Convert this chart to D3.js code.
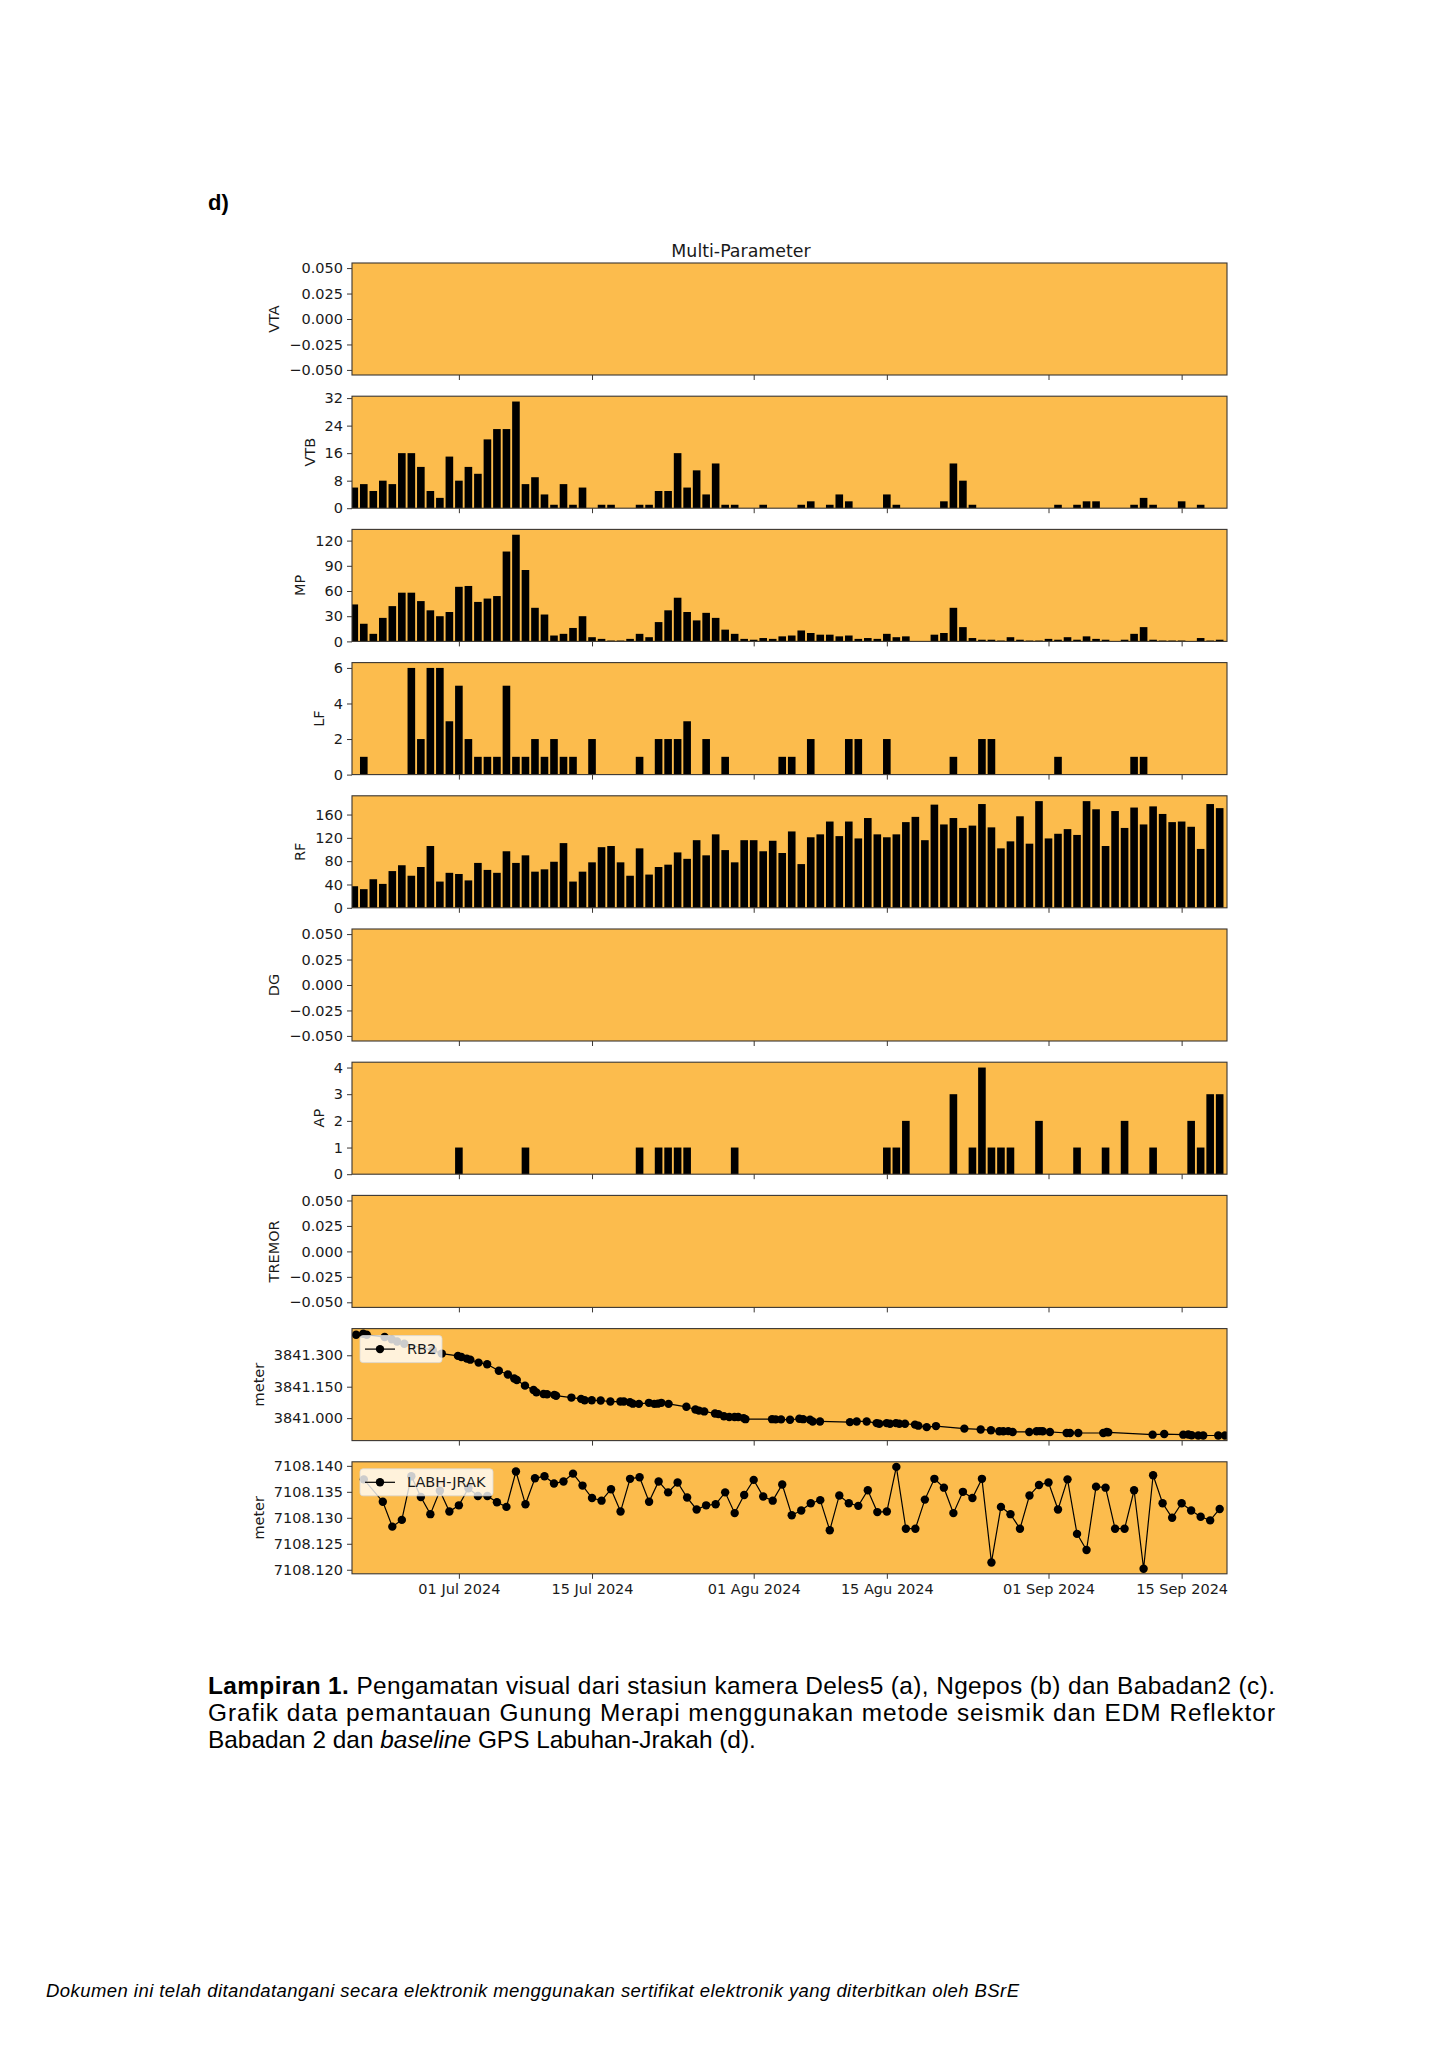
<!DOCTYPE html>
<html lang="en">
<head>
<meta charset="utf-8">
<title>Multi-Parameter</title>
<script src="https://cdn.jsdelivr.net/npm/d3@7"></script>
<style>
body { margin: 0; background: #fff; }
svg { display: block; }
</style>
</head>
<body>
<script>
var W = 1448, H = 2048;

// daily counts, one bar per day from 20 Jun 2024 (92 days)
var startDay = "2024-06-20";
var vtb = [6,7,5,8,7,16,16,12,5,3, 15,8,12,10,20,23,23,31,7,9, 4,1,7,1,6,0,1,1,0,0,
           1,1,5,5,16,6,11,4,13,1, 1,0,0,1,0,0,0,1,2,0, 1,4,2,0,0,0,4,1,0,0,
           0,0,2,13,8,1,0,0,0,0, 0,0,0,0,1,0,1,2,2,0, 0,0,1,3,1,0,0,2,0,1, 0,0];
var mp  = [44,21,9,28,42,58,58,48,37,30, 35,65,66,47,51,54,107,127,85,40, 32,7,9,16,30,5,3,1,1,3,
           9,5,23,37,52,35,25,34,28,14, 9,3,2,4,3,6,7,13,10,8, 8,6,7,3,4,3,9,5,6,0,
           0,8,10,40,17,4,2,2,1,5, 2,1,1,3,2,5,2,6,3,2, 0,2,9,17,2,1,1,1,0,4, 1,2];
var lf  = [0,1,0,0,0,0,6,2,6,6, 3,5,2,1,1,1,5,1,1,2, 1,2,1,1,0,2,0,0,0,0,
           1,0,2,2,2,3,0,2,0,1, 0,0,0,0,0,1,1,0,2,0, 0,0,2,2,0,0,2,0,0,0,
           0,0,0,1,0,0,2,2,0,0, 0,0,0,0,1,0,0,0,0,0, 0,0,1,1,0,0,0,0,0,0, 0,0];
var rf  = [37,32,49,41,63,73,55,70,106,45, 60,58,47,77,65,60,97,77,90,62, 66,79,111,45,62,78,104,106,78,55,
           102,57,70,74,95,84,116,90,126,99, 78,116,116,97,115,94,131,75,121,126, 148,123,148,119,154,126,121,126,147,156,
           116,177,143,154,137,141,178,138,102,114, 157,110,183,119,127,135,125,183,169,106, 166,137,172,143,174,161,147,148,139,101, 178,171];
var ap  = [0,0,0,0,0,0,0,0,0,0, 0,1,0,0,0,0,0,0,1,0, 0,0,0,0,0,0,0,0,0,0,
           1,0,1,1,1,1,0,0,0,0, 1,0,0,0,0,0,0,0,0,0, 0,0,0,0,0,0,1,1,2,0,
           0,0,0,3,0,1,4,1,1,1, 0,0,2,0,0,0,1,0,0,1, 0,2,0,0,1,0,0,0,2,1, 3,3];

// EDM RB2 distance, time in days since 20 Jun 2024
var rb2Day = [0.19,0.94,1.31,3.19,3.94,4.5,5.26,8.26,9.2,10.9, 11.26,11.83,12.2,13.07,13.97,15.2,16.15,16.82,17.09,17.95,
              18.85,19.15,19.9,20.27,21.03,21.22,22.83,23.85,24.22,24.97, 25.91,26.93,27.98,28.35,28.99,29.29,29.93,30.98,31.55,31.92,
              32.29,33.05,34.92,35.87,36.24,36.8,37.93,38.3,38.87,39.43, 39.99,40.37,40.94,41.13,43.93,44.31,44.88,45.82,46.8,47.2,
              47.92,48.2,48.97,52.12,52.83,53.88,54.93,55.21,55.98,56.33, 56.96,57.31,57.91,58.96,59.31,60.19,61.17,64.15,65.87,66.95,
              67.83,68.25,68.77,69.23,70.98,71.75,72.1,72.39,73.15,74.91, 75.26,76.13,78.76,79.12,79.29,83.95,85.17,87.17,87.7,88.05,
              88.75,89.27,90.85,91.56];
var rb2Val = [3841.398,3841.403,3841.398,3841.387,3841.376,3841.366,3841.355,3841.324,3841.308,3841.297,
              3841.292,3841.284,3841.279,3841.265,3841.257,3841.226,3841.208,3841.189,3841.182,3841.155,
              3841.134,3841.123,3841.115,3841.114,3841.111,3841.107,3841.098,3841.092,3841.085,3841.085,
              3841.084,3841.079,3841.079,3841.079,3841.076,3841.069,3841.068,3841.073,3841.068,3841.069,
              3841.073,3841.068,3841.054,3841.041,3841.036,3841.032,3841.022,3841.019,3841.009,3841.005,
              3841.005,3841.005,3841.000,3840.995,3840.995,3840.994,3840.994,3840.992,3840.997,3840.995,
              3840.992,3840.984,3840.984,3840.981,3840.984,3840.984,3840.976,3840.973,3840.976,3840.973,
              3840.976,3840.973,3840.973,3840.969,3840.964,3840.957,3840.962,3840.950,3840.946,3840.942,
              3840.937,3840.937,3840.938,3840.934,3840.934,3840.937,3840.938,3840.937,3840.934,3840.929,
              3840.929,3840.929,3840.929,3840.934,3840.932,3840.921,3840.924,3840.921,3840.922,3840.918,
              3840.917,3840.917,3840.917,3840.917];

// GPS baseline Labuhan-Jrakah, days since 20 Jun 2024
var labhDay = [1,3,4,5,6,7,8,9,10, 11,12,13,14,15,16,17,18,19,20, 21,22,23,24,25,26,27,28,29,30,
               31,32,33,34,35,36,37,38,39,40, 41,42,43,44,45,46,47,48,49,50, 51,52,53,54,55,56,57,58,59,60,
               61,62,63,64,65,66,67,68,69,70, 71,72,73,74,75,76,77,78,79,80, 81,82,83,84,85,86,87,88,89,90, 91];
var labhVal = [7108.1374,7108.1331,7108.1283,7108.1296,7108.1380,7108.1340,7108.1307,7108.1352,7108.1312,
               7108.1324,7108.1357,7108.1342,7108.1342,7108.1330,7108.1321,7108.1389,7108.1326,7108.1376,7108.1380,
               7108.1366,7108.1370,7108.1385,7108.1362,7108.1338,7108.1333,7108.1355,7108.1312,7108.1375,7108.1378,
               7108.1331,7108.1370,7108.1349,7108.1368,7108.1339,7108.1316,7108.1324,7108.1326,7108.1349,7108.1309,
               7108.1344,7108.1373,7108.1341,7108.1333,7108.1364,7108.1305,7108.1314,7108.1328,7108.1334,7108.1276,
               7108.1343,7108.1328,7108.1323,7108.1353,7108.1311,7108.1312,7108.1398,7108.1279,7108.1279,7108.1335,
               7108.1375,7108.1358,7108.1309,7108.1350,7108.1338,7108.1375,7108.1214,7108.1321,7108.1307,7108.1279,
               7108.1343,7108.1363,7108.1368,7108.1316,7108.1374,7108.1269,7108.1238,7108.1360,7108.1358,7108.1279,
               7108.1279,7108.1353,7108.1202,7108.1382,7108.1328,7108.1300,7108.1328,7108.1314,7108.1302,7108.1295,
               7108.1317];

// tick values / labels
var emptyTicks = [-0.05, -0.025, 0, 0.025, 0.05];
var vtbTicks = [0, 8, 16, 24, 32];
var mpTicks = [0, 30, 60, 90, 120];
var lfTicks = [0, 2, 4, 6];
var rfTicks = [0, 40, 80, 120, 160];
var apTicks = [0, 1, 2, 3, 4];
var rb2Ticks = [3841.000, 3841.150, 3841.300];
var labhTicks = [7108.120, 7108.125, 7108.130, 7108.135, 7108.140];
var xTickDates = ["2024-07-01", "2024-07-15", "2024-08-01", "2024-08-15", "2024-09-01", "2024-09-15"];
var xTickLabels = ["01 Jul 2024", "15 Jul 2024", "01 Agu 2024", "15 Agu 2024", "01 Sep 2024", "15 Sep 2024"];

// layout
var L = 352, R = 1227;     // axes left / right
var top0 = 263, step = 133.2, ph = 112;
var bg = "#fcbc4d";
var frame = "#3a3632";
var font = "DejaVu Sans";
var mr = 4.2;              // marker radius

var svg = d3.select("body").append("svg").attr("width", W).attr("height", H);
svg.append("rect").attr("width", W).attr("height", H).attr("fill", "#fff");

var t0 = d3.utcParse("%Y-%m-%d")(startDay).getTime();
var DAY = 864e5;
function dayDate(d) { return new Date(t0 + d * DAY); }

var x = d3.scaleUtc().domain([dayDate(-0.24), dayDate(91.77)]).range([L, R]);
var bw = x(dayDate(0.4)) - x(dayDate(-0.4));

function barDom(v) { return [0, d3.max(v) * 1.05]; }
function lineDom(v) {
    var lo = d3.min(v), hi = d3.max(v), r = hi - lo;
    return [lo - 0.05 * r, hi + 0.05 * r];
}

var panels = [
    {label: "VTA", dom: [-0.055, 0.055], ticks: emptyTicks, fmt: ".3f"},
    {label: "VTB", bars: vtb, dom: barDom(vtb), ticks: vtbTicks, fmt: "d"},
    {label: "MP", bars: mp, dom: barDom(mp), ticks: mpTicks, fmt: "d"},
    {label: "LF", bars: lf, dom: barDom(lf), ticks: lfTicks, fmt: "d"},
    {label: "RF", bars: rf, dom: barDom(rf), ticks: rfTicks, fmt: "d"},
    {label: "DG", dom: [-0.055, 0.055], ticks: emptyTicks, fmt: ".3f"},
    {label: "AP", bars: ap, dom: barDom(ap), ticks: apTicks, fmt: "d"},
    {label: "TREMOR", dom: [-0.055, 0.055], ticks: emptyTicks, fmt: ".3f"},
    {label: "meter", days: rb2Day, vals: rb2Val, name: "RB2", dom: lineDom(rb2Val), ticks: rb2Ticks, fmt: ".3f", legW: 82},
    {label: "meter", days: labhDay, vals: labhVal, name: "LABH-JRAK", dom: lineDom(labhVal), ticks: labhTicks, fmt: ".3f", legW: 133}
];

panels.forEach(function(p, i) {
    var top = top0 + i * step;
    var g = svg.append("g").attr("transform", "translate(0," + top + ")");
    var y = d3.scaleLinear().domain(p.dom).range([ph, 0]);

    g.append("rect").attr("x", L).attr("width", R - L).attr("height", ph).attr("fill", bg);

    g.append("clipPath").attr("id", "clip" + i)
        .append("rect").attr("x", L).attr("width", R - L).attr("height", ph);
    var plot = g.append("g").attr("clip-path", "url(#clip" + i + ")");

    if (p.bars) {
        plot.selectAll("rect").data(p.bars).join("rect")
            .attr("x", function(v, j) { return x(dayDate(j)) - bw / 2; })
            .attr("width", bw)
            .attr("y", function(v) { return y(v); })
            .attr("height", function(v) { return y(0) - y(v); })
            .attr("fill", "#000");
    }

    if (p.days) {
        var pts = p.days.map(function(d, j) { return [x(dayDate(d)), y(p.vals[j])]; });
        plot.append("path").attr("d", d3.line()(pts))
            .attr("fill", "none").attr("stroke", "#000").attr("stroke-width", 1.2);
        plot.selectAll("circle").data(pts).join("circle")
            .attr("cx", function(d) { return d[0]; }).attr("cy", function(d) { return d[1]; })
            .attr("r", mr).attr("fill", "#000");

        // legend
        var lg = g.append("g").attr("transform", "translate(" + (L + 8) + ",7)");
        lg.append("rect").attr("width", p.legW).attr("height", 27).attr("rx", 3)
            .attr("fill", "#fff").attr("fill-opacity", 0.8)
            .attr("stroke", "#d8d8d8").attr("stroke-opacity", 0.8);
        lg.append("line").attr("x1", 5).attr("x2", 35).attr("y1", 13.5).attr("y2", 13.5)
            .attr("stroke", "#000").attr("stroke-width", 1.2);
        lg.append("circle").attr("cx", 20).attr("cy", 13.5).attr("r", mr).attr("fill", "#000");
        lg.append("text").attr("x", 47).attr("y", 13.5).attr("dy", "0.35em")
            .attr("font-family", font).attr("font-size", 14.5).attr("fill", "#1a1a1a")
            .text(p.name);
    }

    // y axis
    var ya = g.append("g").attr("transform", "translate(" + L + ",0)")
        .call(d3.axisLeft(y).tickValues(p.ticks).tickSize(5).tickPadding(4).tickFormat(d3.format(p.fmt)));
    ya.select(".domain").remove();
    ya.selectAll("line").attr("stroke", frame).attr("stroke-width", 1);
    ya.selectAll("text").attr("font-family", font).attr("font-size", 14.5).attr("fill", "#1a1a1a");

    // x axis ticks (labels only on the bottom panel)
    var last = i === panels.length - 1;
    var xa = g.append("g").attr("transform", "translate(0," + ph + ")")
        .call(d3.axisBottom(x)
            .tickValues(xTickDates.map(function(s) { return d3.utcParse("%Y-%m-%d")(s); }))
            .tickSize(5).tickPadding(5)
            .tickFormat(function(d, k) { return last ? xTickLabels[k] : ""; }));
    xa.select(".domain").remove();
    xa.selectAll("line").attr("stroke", frame).attr("stroke-width", 1);
    xa.selectAll("text").attr("font-family", font).attr("font-size", 14.5).attr("fill", "#1a1a1a");

    // frame
    g.append("rect").attr("x", L).attr("width", R - L).attr("height", ph)
        .attr("fill", "none").attr("stroke", frame).attr("stroke-width", 1.1);

    // y label
    var bb = ya.node().getBBox();
    var lx = L + bb.x - 10;
    g.append("text").attr("transform", "translate(" + lx + "," + (ph / 2) + ") rotate(-90)")
        .attr("text-anchor", "middle")
        .attr("font-family", font).attr("font-size", 14.5).attr("fill", "#1a1a1a")
        .text(p.label);
});

// title
svg.append("text").attr("x", 741).attr("y", 257).attr("text-anchor", "middle")
    .attr("font-family", font).attr("font-size", 17.4).attr("fill", "#1a1a1a")
    .text("Multi-Parameter");

// panel letter
svg.append("text").attr("x", 208).attr("y", 210)
    .attr("font-family", "Liberation Sans").attr("font-weight", "bold").attr("font-size", 22)
    .text("d)");

// caption
var cap = svg.append("g").attr("font-family", "Liberation Sans").attr("font-size", 24.4).attr("fill", "#000");
var l1 = cap.append("text").attr("x", 208).attr("y", 1694).attr("textLength", 1067).attr("lengthAdjust", "spacing");
l1.append("tspan").attr("font-weight", "bold").text("Lampiran 1.");
l1.append("tspan").text(" Pengamatan visual dari stasiun kamera Deles5 (a), Ngepos (b) dan Babadan2 (c).");
cap.append("text").attr("x", 208).attr("y", 1721).attr("textLength", 1067).attr("lengthAdjust", "spacing")
    .text("Grafik data pemantauan Gunung Merapi menggunakan metode seismik dan EDM Reflektor");
var l3 = cap.append("text").attr("x", 208).attr("y", 1748);
l3.append("tspan").text("Babadan 2 dan ");
l3.append("tspan").attr("font-style", "italic").text("baseline");
l3.append("tspan").text(" GPS Labuhan-Jrakah (d).");

// footer
svg.append("text").attr("x", 46).attr("y", 1997)
    .attr("font-family", "Liberation Sans").attr("font-style", "italic").attr("font-size", 18.5)
    .attr("textLength", 973).attr("lengthAdjust", "spacing")
    .text("Dokumen ini telah ditandatangani secara elektronik menggunakan sertifikat elektronik yang diterbitkan oleh BSrE");
</script>
</body>
</html>
